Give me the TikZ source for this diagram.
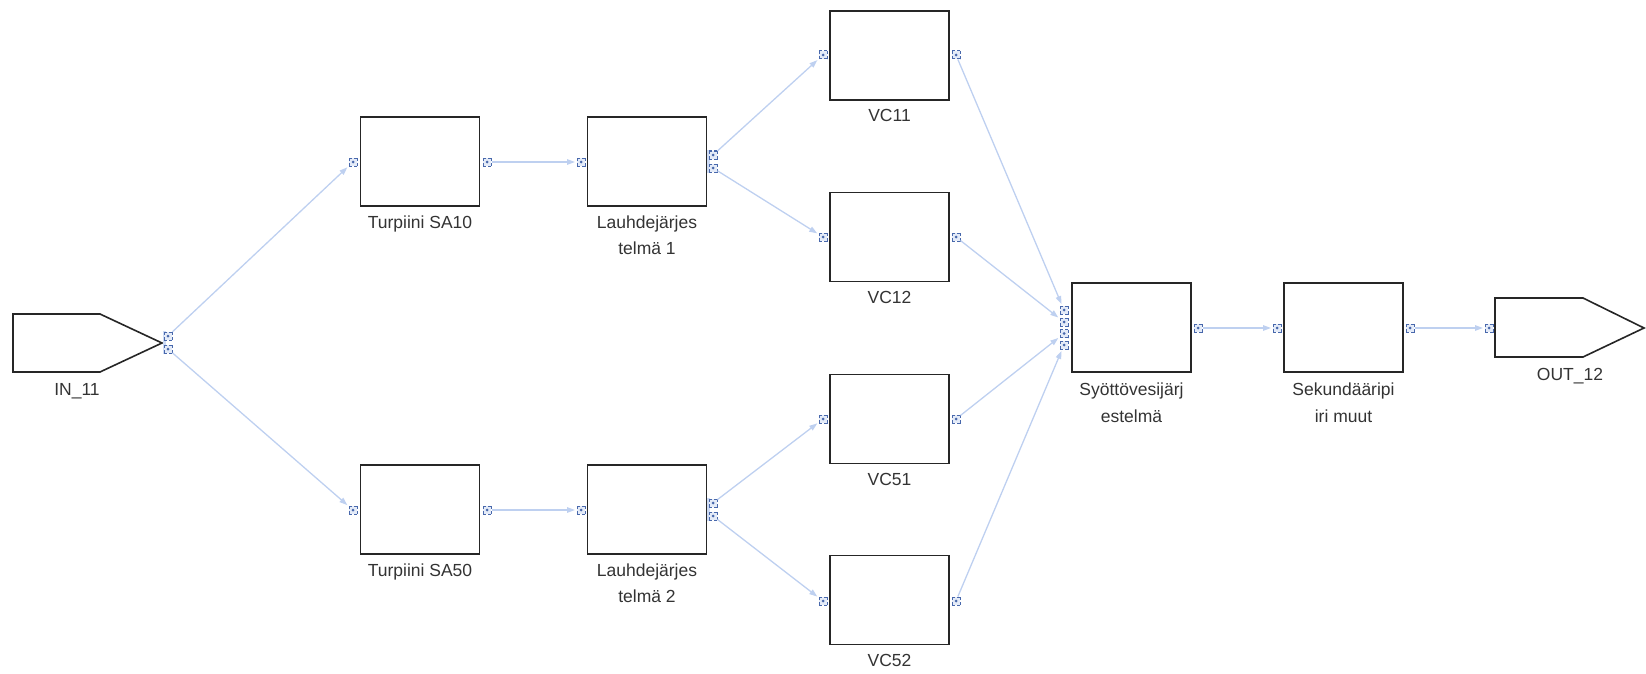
\documentclass[tikz,border=0pt]{standalone}
\usepackage{fontspec}
\setmainfont{Liberation Sans}
\usetikzlibrary{arrows.meta}
\definecolor{boxline}{RGB}{38,38,38}
\definecolor{txt}{RGB}{51,51,51}
\definecolor{conn}{RGB}{190,208,240}
\definecolor{portc}{RGB}{72,104,172}
\definecolor{portbg}{RGB}{228,235,248}
\definecolor{strip}{RGB}{205,219,245}
\tikzset{
  blk/.style={rectangle, draw=boxline, line width=1.6pt, fill=white, minimum width=119pt, minimum height=89pt, inner sep=0pt},
  lbl/.style={anchor=base, text=txt, inner sep=0pt, font=\fontsize{17.5}{21}\selectfont},
  port/.style={rectangle, minimum size=8pt, inner sep=0pt, draw=portc, line width=1pt,
     dash pattern=on 3pt off 2pt on 3pt off 0pt, fill=portbg,
     path picture={\fill[portc] (path picture bounding box.center) circle (1.5pt);}},
  conn/.style={draw=conn, line width=1.3pt, -{Triangle[length=8pt,width=5.5pt]}, shorten >=1.5pt},
  terminal/.style={draw=boxline, line width=1.6pt, fill=white, line join=miter}
}
\begin{document}
\begin{tikzpicture}[x=1pt,y=-1pt]
\useasboundingbox (0,0) rectangle (1646,674);

% terminals
\draw[terminal] (13,314) -- (100,314) -- (162,343) -- (100,372) -- (13,372) -- cycle;
\node[lbl] (inl) at (77,395) {IN\_11};
\draw[terminal] (1495,298) -- (1583,298) -- (1644,328) -- (1583,357) -- (1495,357) -- cycle;
\node[lbl] (outl) at (1570,380) {OUT\_12};

% strips behind stacked ports
\fill[strip] (163,331) rectangle (165.5,354);
\fill[strip] (707,150) rectangle (710,173);
\fill[strip] (707,498) rectangle (710,521);

% blocks
\node[blk] (sa10) at (420,161.5) {};
\node[lbl] (sa10l) at (420,228) {Turpiini SA10};
\node[blk] (sa50) at (420,509.5) {};
\node[lbl] (sa50l) at (420,576) {Turpiini SA50};
\node[blk] (l1) at (647,161.5) {};
\node[lbl] (l1a) at (647,228) {Lauhdejärjes};
\node[lbl] (l1b) at (647,254) {telmä 1};
\node[blk] (l2) at (647,509.5) {};
\node[lbl] (l2a) at (647,576) {Lauhdejärjes};
\node[lbl] (l2b) at (647,602) {telmä 2};
\node[blk] (vc11) at (889.5,55.5) {};
\node[lbl] (vc11l) at (889.5,122) {VC11};
\node[blk] (vc12) at (889.5,237) {};
\node[lbl] (vc12l) at (889.5,303) {VC12};
\node[blk] (vc51) at (889.5,419) {};
\node[lbl] (vc51l) at (889.5,485) {VC51};
\node[blk] (vc52) at (889.5,600) {};
\node[lbl] (vc52l) at (889.5,666) {VC52};
\node[blk] (sy) at (1131.5,327.5) {};
\node[lbl] (sya) at (1131.5,395) {Syöttövesijärj};
\node[lbl] (syb) at (1131.5,422) {estelmä};
\node[blk] (sek) at (1343.5,327.5) {};
\node[lbl] (seka) at (1343.5,395) {Sekundääripi};
\node[lbl] (sekb) at (1343.5,422) {iri muut};

% ports
\node[port] (in1) at (168,336) {};
\node[port] (in2) at (168,349) {};
\node[port] (sa10i) at (353,162) {};
\node[port] (sa10o) at (487,162) {};
\node[port] (sa50i) at (353,510) {};
\node[port] (sa50o) at (487,510) {};
\node[port] (l1i) at (581,162) {};
\node[port] (l1o1) at (713,155) {};
\node[port] (l1o2) at (713,168) {};
\node[port] (l2i) at (581,510) {};
\node[port] (l2o1) at (713,503) {};
\node[port] (l2o2) at (713,516) {};
\node[port] (vc11i) at (823,55) {};
\node[port] (vc11o) at (956,55) {};
\node[port] (vc12i) at (823,237) {};
\node[port] (vc12o) at (956,237) {};
\node[port] (vc51i) at (823,419) {};
\node[port] (vc51o) at (956,419) {};
\node[port] (vc52i) at (823,601) {};
\node[port] (vc52o) at (956,601) {};
\node[port] (syi1) at (1064,310) {};
\node[port] (syi2) at (1064,322) {};
\node[port] (syi3) at (1064,333.5) {};
\node[port] (syi4) at (1064,345) {};
\node[port] (syo) at (1198,328) {};
\node[port] (seki) at (1277,328) {};
\node[port] (seko) at (1410,328) {};
\node[port] (outi) at (1489,328) {};

% connectors
\draw[conn] (in1) -- (sa10i);
\draw[conn] (in2) -- (sa50i);
\draw[conn] (sa10o) -- (l1i);
\draw[conn] (sa50o) -- (l2i);
\draw[conn] (l1o1) -- (vc11i);
\draw[conn] (l1o2) -- (vc12i);
\draw[conn] (l2o1) -- (vc51i);
\draw[conn] (l2o2) -- (vc52i);
\draw[conn] (vc11o) -- (syi1);
\draw[conn] (vc12o) -- (syi2);
\draw[conn] (vc51o) -- (syi3);
\draw[conn] (vc52o) -- (syi4);
\draw[conn] (syo) -- (seki);
\draw[conn] (seko) -- (outi);
\end{tikzpicture}
\end{document}
